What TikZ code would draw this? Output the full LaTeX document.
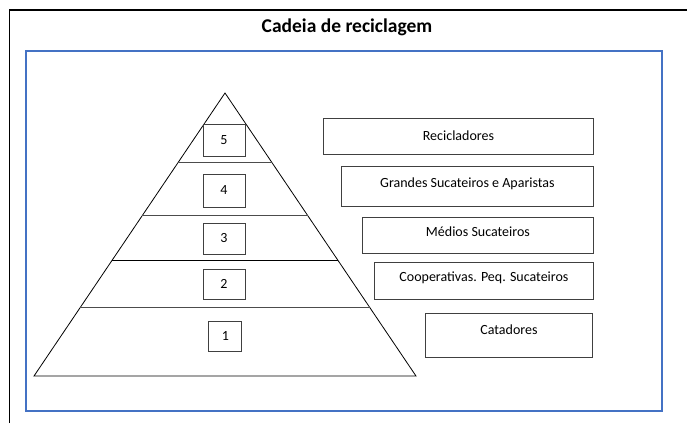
\documentclass[tikz,border=0pt]{standalone}
\usepackage{fontspec}
\setmainfont{Carlito}
\usetikzlibrary{calc}
\definecolor{officeblue}{RGB}{68,114,196}
\definecolor{boxline}{RGB}{64,64,64}
\tikzset{
    numbox/.style={draw=boxline,line width=0.9pt,minimum width=42pt,minimum height=32pt,inner sep=0pt,font=\fontsize{14}{16}\selectfont},
    labelbox/.style={draw=boxline,line width=0.9pt,anchor=north west,inner sep=0pt,text height=10pt,text depth=8pt,font=\fontsize{14}{16}\selectfont},
    levelline/.style={draw=black!70,line width=0.8pt}
}
\begin{document}
\begin{tikzpicture}[x=1pt,y=-1pt]
        \useasboundingbox (0,0) rectangle (687,423);
        \draw [line width=1.2pt] (9.5,423) -- (9.5,10) -- (687,10);
        \node [font=\fontsize{19.5}{22}\selectfont\bfseries] (Titulo) at (347,27) {Cadeia de reciclagem};
        \draw [officeblue,line width=1.1pt] (26,51) rectangle (662,411);

        \coordinate (Topo) at (225,93);
        \coordinate (BaseEsq) at (34,376);
        \coordinate (BaseDir) at (416,376);
        \draw [line width=0.8pt,line join=miter] (Topo) -- (BaseDir) -- (BaseEsq) -- cycle;
        \draw [levelline] ($(Topo)!0.2465!(BaseEsq)$) -- ($(Topo)!0.2465!(BaseDir)$);
        \draw [levelline] ($(Topo)!0.4331!(BaseEsq)$) -- ($(Topo)!0.4331!(BaseDir)$);
        \draw [levelline,draw=black] ($(Topo)!0.5915!(BaseEsq)$) -- ($(Topo)!0.5915!(BaseDir)$);
        \draw [levelline] ($(Topo)!0.7570!(BaseEsq)$) -- ($(Topo)!0.7570!(BaseDir)$);

        \node [numbox] (N5) at (224,140) {5};
        \node [numbox,minimum height=33pt] (N4) at (224,190.5) {4};
        \node [numbox,minimum height=31pt] (N3) at (224,238.5) {3};
        \node [numbox,minimum height=30pt] (N2) at (224,284) {2};
        \node [numbox,minimum width=33pt,minimum height=30pt] (N1) at (224.5,336) {\hspace*{2pt}1};

        \node [labelbox,minimum width=270pt,minimum height=36pt,text depth=1pt] (Recicladores) at (323,118) {Recicladores};
        \node [labelbox,minimum width=252pt,minimum height=40pt] (Grandes) at (341,166) {Grandes Sucateiros e Aparistas};
        \node [labelbox,minimum width=231pt,minimum height=36pt] (Medios) at (362,217) {Médios Sucateiros};
        \node [labelbox,minimum width=219pt,minimum height=37pt] (Cooperativas) at (374,262) {Cooperativas. Peq. Sucateiros};
        \node [labelbox,minimum width=167pt,minimum height=44pt,text depth=12pt] (Catadores) at (425,313) {Catadores};
    \end{tikzpicture}
\end{document}
